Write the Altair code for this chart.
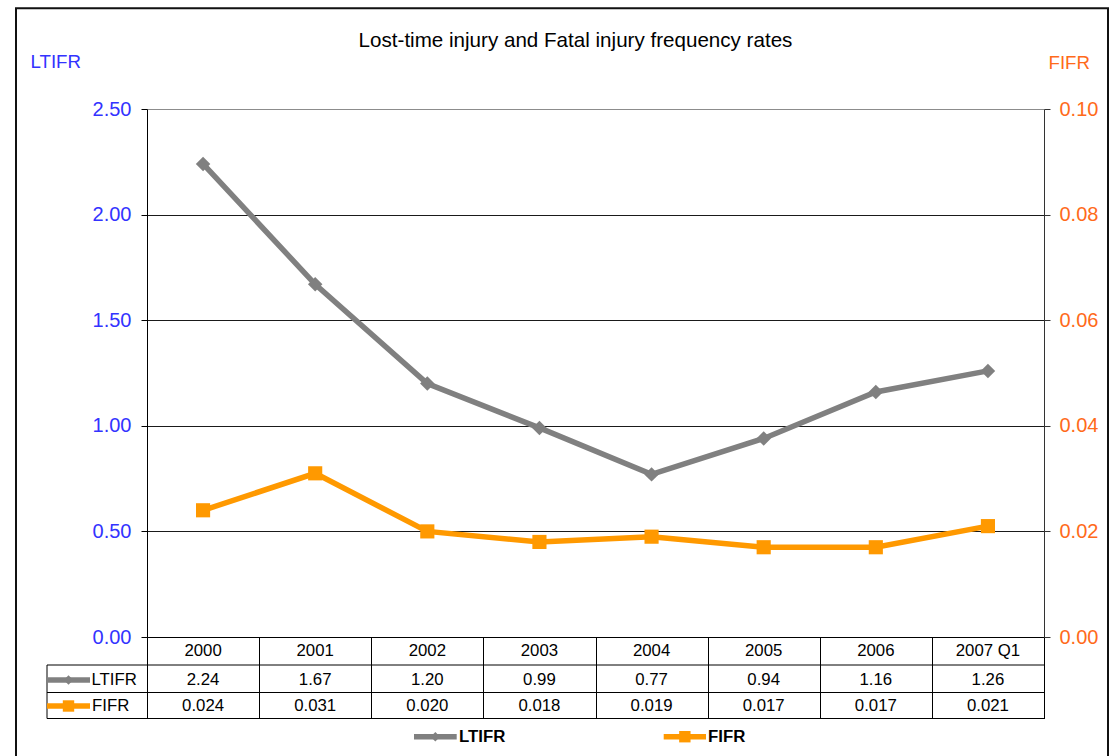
import altair as alt
import pandas as pd

# ---- data -------------------------------------------------------------
years = ["2000", "2001", "2002", "2003", "2004", "2005", "2006", "2007 Q1"]
ltifr = [2.24, 1.67, 1.20, 0.99, 0.77, 0.94, 1.16, 1.26]
fifr = [0.024, 0.031, 0.020, 0.018, 0.019, 0.017, 0.017, 0.021]
ltifr_ticks = [0.0, 0.5, 1.0, 1.5, 2.0, 2.5]
fifr_ticks = [0.0, 0.02, 0.04, 0.06, 0.08, 0.10]
series = ["LTIFR", "FIFR"]
title_text = "Lost-time injury and Fatal injury frequency rates"

df = pd.DataFrame({"Year": years, "LTIFR": ltifr, "FIFR": fifr})
one = pd.DataFrame({"k": [0]})

# ---- styling ----------------------------------------------------------
FONT = "Liberation Sans"
GRAY = "#808080"
ORANGE = "#ff9900"
BLUE = "#3333ff"
ORANGE_TXT = "#ff6a1a"
W, H = 897, 528

# table rows drawn under the plot (offsets from the plot's top edge)
ROW_HDR, ROW_L, ROW_F = 542, 571, 597
LINE_1, LINE_2, LINE_3 = 556, 583.5, 609.5
TABLE_LEFT = -100
LEGEND_Y = 627.7

x_enc = alt.X(
    "Year:N",
    sort=years,
    bandPosition=0.5,
    scale=alt.Scale(type="band", paddingInner=0, paddingOuter=0),
    axis=alt.Axis(
        title=None, labels=False, grid=False, orient="bottom",
        tickBand="extent", tickSize=LINE_3 - H, tickColor="#000",
        domainColor="#000", tickWidth=1, domainWidth=1,
    ),
)

y_left = alt.Y(
    "LTIFR:Q",
    scale=alt.Scale(domain=[0, 2.5], nice=False),
    axis=alt.Axis(
        orient="left", values=ltifr_ticks, format=".2f",
        labelColor=BLUE, labelFont=FONT, labelFontSize=20, labelPadding=10,
        tickSize=6, tickColor="#000", domainColor="#000",
        grid=True,
        gridColor={"condition": {"test": "datum.value >= 2.5", "value": "#8c8c8c"},
                   "value": "#1a1a1a"},
        title="LTIFR", titleColor=BLUE, titleFont=FONT, titleFontSize=18.7,
        titleFontWeight="normal", titleAngle=0, titleAlign="left",
        titleBaseline="middle", titleX=-117, titleY=-48,
    ),
)

y_right = alt.Y(
    "FIFR:Q",
    scale=alt.Scale(domain=[0, 0.1], nice=False),
    axis=alt.Axis(
        orient="right", values=fifr_ticks, format=".2f",
        labelColor=ORANGE_TXT, labelFont=FONT, labelFontSize=20, labelPadding=9,
        tickSize=6, tickColor="#333", domainColor="#333", grid=False,
        title="FIFR", titleColor=ORANGE_TXT, titleFont=FONT, titleFontSize=18.7,
        titleFontWeight="normal", titleAngle=0, titleAlign="left",
        titleBaseline="middle", titleX=4, titleY=-47,
    ),
)

base = alt.Chart(df).encode(x=x_enc)

# ---- series lines ------------------------------------------------------
lt = alt.layer(
    base.mark_line(color=GRAY, strokeWidth=5.5).encode(y=y_left),
    base.mark_point(shape="diamond", filled=True, size=210, color=GRAY, opacity=1).encode(y=y_left),
)
fi = alt.layer(
    base.mark_line(color=ORANGE, strokeWidth=5.5).encode(y=y_right),
    base.mark_point(shape="square", filled=True, size=200, color=ORANGE, opacity=1).encode(y=y_right),
)

# ---- data table under the plot ----------------------------------------
txt = dict(font=FONT, fontSize=16.8, color="#000", baseline="middle", align="center")
hdr = base.mark_text(**txt).encode(y=alt.value(ROW_HDR), text="Year:N")
row_l = base.mark_text(**txt).encode(y=alt.value(ROW_L), text=alt.Text("LTIFR:Q", format=".2f"))
row_f = base.mark_text(**txt).encode(y=alt.value(ROW_F), text=alt.Text("FIFR:Q", format=".3f"))

def hrule(y):
    return alt.Chart(one).mark_rule(color="#000", strokeWidth=1).encode(
        x=alt.value(TABLE_LEFT), x2=alt.value(W), y=alt.value(y))

table_lines = [
    hrule(LINE_1), hrule(LINE_2), hrule(LINE_3),
    alt.Chart(one).mark_rule(color="#000", strokeWidth=1).encode(
        x=alt.value(TABLE_LEFT), y=alt.value(LINE_1), y2=alt.value(LINE_3)),
]

def key(x0, x1, y, color, shape, size, label, lx, weight):
    return [
        alt.Chart(one).mark_rule(color=color, strokeWidth=5.5).encode(
            x=alt.value(x0), x2=alt.value(x1), y=alt.value(y)),
        alt.Chart(one).mark_point(shape=shape, filled=True, size=size, color=color, opacity=1).encode(
            x=alt.value((x0 + x1) / 2), y=alt.value(y)),
        alt.Chart(one).mark_text(font=FONT, fontSize=16.8, fontWeight=weight, color="#000",
                                 align="left", baseline="middle").encode(
            x=alt.value(lx), y=alt.value(y), text=alt.value(label)),
    ]

# row keys inside the table and the legend beneath it
keys = (
    key(TABLE_LEFT, -57, ROW_L, GRAY, "diamond", 90, series[0], -55.5, "normal")
    + key(TABLE_LEFT, -57, ROW_F, ORANGE, "square", 130, series[1], -55, "normal")
    + key(267, 309.7, LEGEND_Y, GRAY, "diamond", 90, series[0], 312, "bold")
    + key(516.7, 559, LEGEND_Y, ORANGE, "square", 130, series[1], 561, "bold")
)

# ---- frame and title ----------------------------------------------------
frame = alt.Chart(one).mark_rect(fillOpacity=0, stroke="#111", strokeWidth=2).encode(
    x=alt.value(-131), x2=alt.value(961), y=alt.value(-100.7), y2=alt.value(660))

title = alt.Chart(one).mark_text(font=FONT, fontSize=20.6, color="#000",
                                 align="center", baseline="middle").encode(
    x=alt.value(428.5), y=alt.value(-68.3), text=alt.value(title_text))

chart = alt.layer(
    frame, title, hdr, row_l, row_f, *table_lines, *keys, lt, fi,
).resolve_scale(y="independent").properties(
    width=W, height=H,
    autosize=alt.AutoSizeParams(type="none"),
    padding={"left": 147, "top": 109, "right": 1110 - 147 - W, "bottom": 756 - 109 - H},
    background="#ffffff",
).configure_view(stroke=None)

chart.save("out.html", embed_options={"renderer": "svg", "actions": False})
